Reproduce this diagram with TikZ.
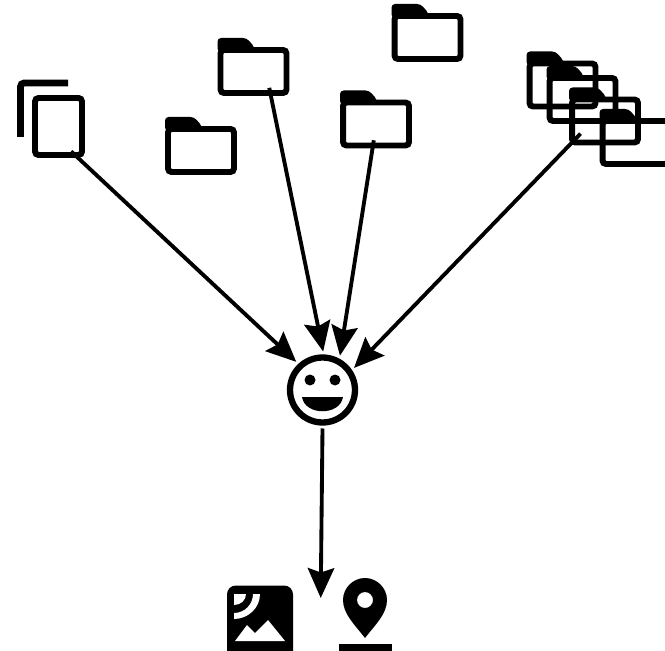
\documentclass[tikz,border=0pt]{standalone}
\usepackage{amsmath}
\usepackage{amssymb}
\usetikzlibrary{calc,arrows.meta}

\tikzset{
  folder/.style={draw, line width=3.4pt, rounded corners=2pt, inner sep=0pt, outer sep=0pt,
    minimum width=1.32cm, minimum height=0.86cm},
  docpage/.style={draw, line width=3.4pt, rounded corners=2pt, inner sep=0pt, outer sep=0pt,
    minimum width=0.94cm, minimum height=1.14cm},
  face/.style={draw, circle, line width=3.6pt, inner sep=0pt, outer sep=0.12cm, minimum size=1.3cm},
  flow/.style={line width=2.2pt, -{Stealth[length=17pt,width=15pt,inset=2.5pt]}, shorten <=-3pt}
}

\begin{document}
\begin{tikzpicture}[x=0.02cm,y=-0.02cm]
  \useasboundingbox (0,0) rectangle (665,651);

  % Document
  \draw[line width=3.8pt, rounded corners=2pt] (20.5,137) -- (20.5,83) -- (68,83);
  \node[docpage] (doc) at (58.5,126.5) {};

  % Folders
  \foreach \name/\x/\y in {f1/201/150.5, f2/253.5/71.5, f3/376/124, f4/427.5/37.5,
                           s1/562.5/85, s2/582.5/99.5, s3/605/121, s4/635.5/142.5} {
    \node[folder] (\name) at (\x,\y) {};
    \fill[rounded corners=2pt] ([shift={(-3,2)}]\name.north west) -- ++(0,-14) -- ++(29,0)
      -- ++(8,9) -- ++(0,5) -- cycle;
  }

  % Smiley
  \node[face] (smiley) at (322.5,390) {};
  \fill ([shift={(-12.5,-10)}]smiley.center) circle (5.5);
  \fill ([shift={(12.5,-10)}]smiley.center) circle (5.5);
  \fill (302,397) -- (343,397) .. controls (340,416) and (305,416) .. (302,397) -- cycle;

  % Image
  \fill[rounded corners=5pt] (227,585.5) rectangle (293,665);
  \fill[white] (234,594) -- (246,594) .. controls (246,600) and (241,605) .. (234,605) -- cycle;
  \fill[white] (253,594) -- (260,594) .. controls (260,608) and (248,619) .. (234,619)
    -- (234,613) .. controls (245,613) and (253,604) .. (253,594) -- cycle;
  \fill[white] (235,641) -- (247,625) -- (255,633) -- (268,620) -- (285,641) -- cycle;

  % Pin
  \fill[even odd rule] (365,638) .. controls (355,625) and (343,614) .. (343,600)
    .. controls (343,588) and (353,578) .. (365,578)
    .. controls (377,578) and (387,588) .. (387,600)
    .. controls (387,614) and (375,625) .. (365,638) -- cycle
    (365,600) circle (8);
  \fill (339,644) rectangle (392,660);

  % Arrows
  \coordinate (out) at (320.7,598);
  \draw[flow] (doc.-60) -- (smiley.133);
  \draw[flow] (f2.-52) -- (smiley.89);
  \draw[flow] (f3.-98) -- (smiley.63);
  \draw[flow, shorten <=-7pt] (s3.south west) -- (smiley.35);
  \draw[flow, shorten <=0pt] (smiley.south) -- (out);
\end{tikzpicture}
\end{document}
